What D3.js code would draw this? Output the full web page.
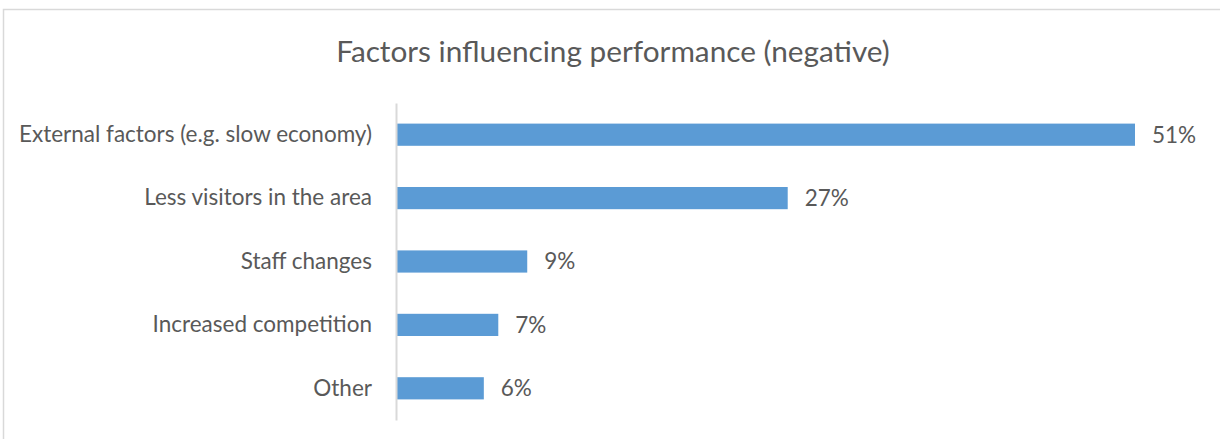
<!DOCTYPE html>
<html>
<head>
<meta charset="utf-8">
<script src="https://cdnjs.cloudflare.com/ajax/libs/d3/7.8.5/d3.min.js"></script>
<style>
  body { margin: 0; background: #fff; }
  text { font-family: Lato, 'Open Sans', sans-serif; fill: #595959; }
</style>
</head>
<body>
<svg id="chart" width="1220" height="439"></svg>
<script>
// chart data
var categories = ['External factors (e.g. slow economy)', 'Less visitors in the area', 'Staff changes', 'Increased competition', 'Other']
var values = [0.51, 0.27, 0.09, 0.07, 0.06]
var valueLabels = ['51%', '27%', '9%', '7%', '6%']
var title = 'Factors influencing performance (negative)'

var svg = d3.select('#chart')

// chart frame (cropped at right and bottom)
svg.append('rect')
    .attr('x', 3.5).attr('y', 9.5)
    .attr('width', 1240).attr('height', 460)
    .attr('fill', 'none')
    .attr('stroke', '#d9d9d9')
    .attr('stroke-width', 1.5)

// fit a text element's font size to a target width
function fitText(sel, targetWidth) {
    var fs = parseFloat(sel.style('font-size'))
    var w = sel.node().getComputedTextLength()
    sel.style('font-size', (fs * targetWidth / w) + 'px')
}

var titleText = svg.append('text')
    .attr('x', 613).attr('y', 62)
    .attr('text-anchor', 'middle')
    .style('font-size', '26px')
    .text(title)
fitText(titleText, 554)

var x = d3.scaleLinear().domain([0, 0.51]).range([397, 1135])
var y = d3.scaleBand().domain(categories).range([103, 420])
    .paddingInner(0.65).paddingOuter(0.325)

// bars
svg.selectAll('rect.bar').data(values).enter()
    .append('rect')
    .attr('class', 'bar')
    .attr('x', x(0))
    .attr('y', function(d, i) { return y(categories[i]) })
    .attr('width', function(d) { return x(d) - x(0) })
    .attr('height', y.bandwidth())
    .attr('fill', '#5B9BD5')

// category axis line and labels
var yAxis = d3.axisLeft(y).tickSize(0).tickPadding(24)
var ag = svg.append('g').attr('transform', 'translate(' + (x(0) - 1) + ',0)').call(yAxis)
ag.select('.domain').attr('stroke', '#d9d9d9').attr('stroke-width', 2)
ag.selectAll('text')
    .style('font-family', "Lato, 'Open Sans', sans-serif")
    .style('fill', '#595959')
    .style('font-size', '18px')
// same size for all labels, matched to the longest label width
var longest = ag.selectAll('text').filter(function(d) { return d === categories[0] })
var fs0 = 18 * 353 / longest.node().getComputedTextLength()
ag.selectAll('text').style('font-size', fs0 + 'px')

// value labels
svg.selectAll('text.val').data(values).enter()
    .append('text')
    .attr('class', 'val')
    .attr('x', function(d) { return x(d) + 17 })
    .attr('y', function(d, i) { return y(categories[i]) + y.bandwidth() / 2 })
    .attr('dy', '0.35em')
    .style('font-size', fs0 + 'px')
    .text(function(d, i) { return valueLabels[i] })
</script>
</body>
</html>
